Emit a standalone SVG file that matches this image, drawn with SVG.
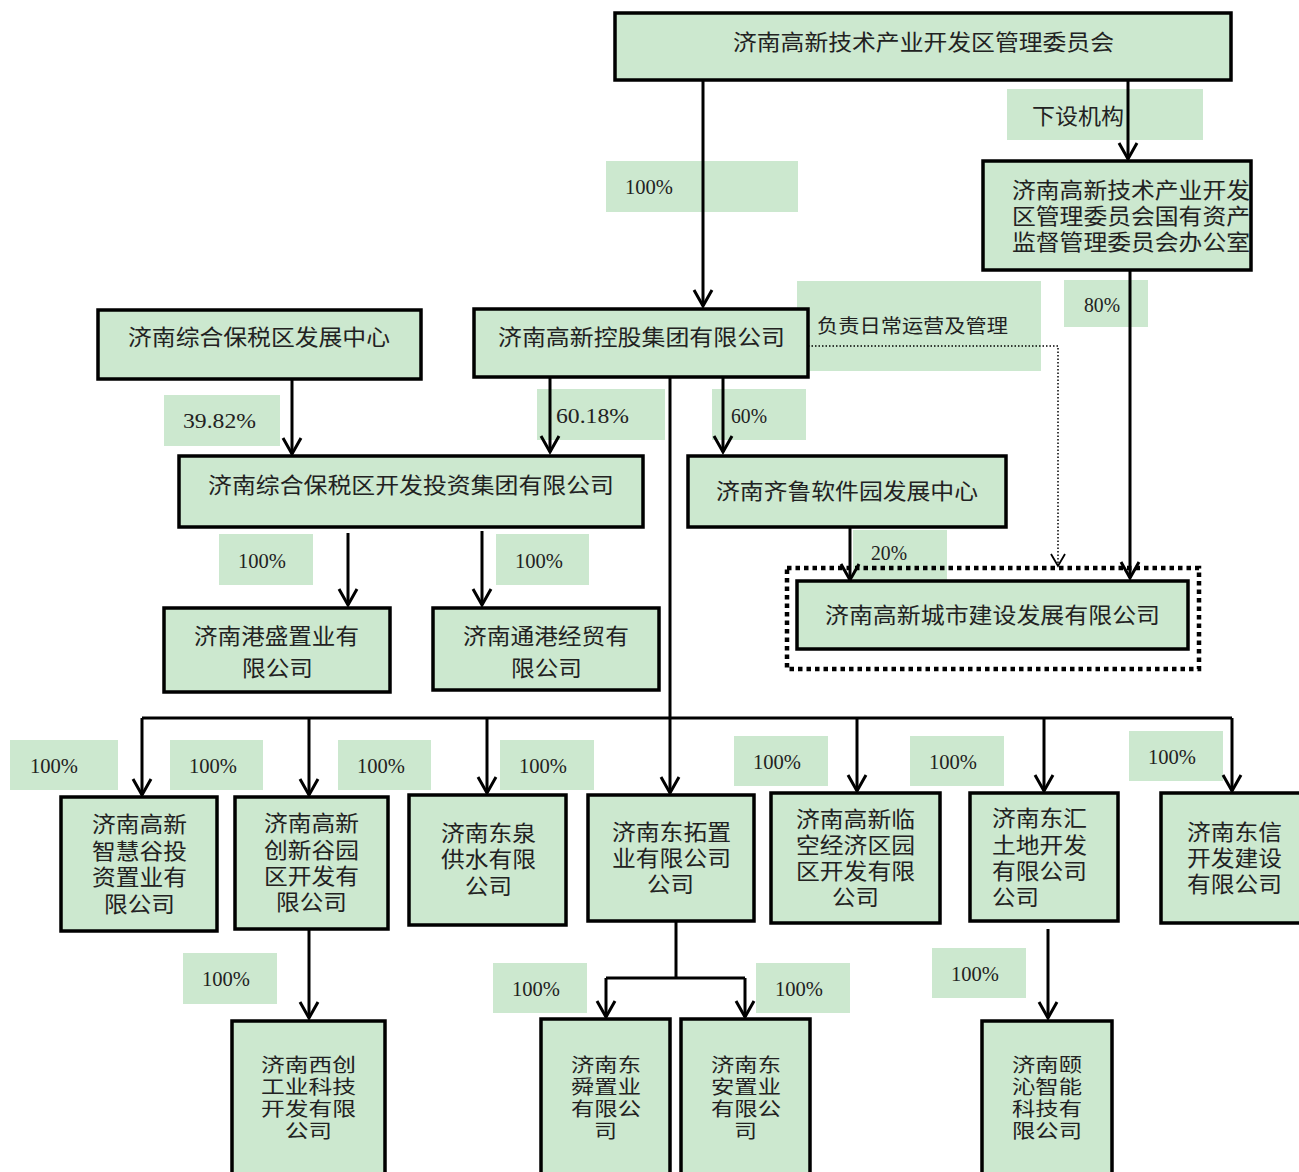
<svg xmlns="http://www.w3.org/2000/svg" width="1299" height="1172" viewBox="0 0 1299 1172">
<style>
.bx{fill:#cce8cf;stroke:#000;stroke-width:3.5}
.lb{fill:#cce8cf}
.t{font-family:"Liberation Sans","Noto Sans CJK SC","Noto Sans CJK JP",sans-serif;font-size:22px;fill:#222}
.tt{font-family:"Liberation Sans","Noto Sans CJK SC","Noto Sans CJK JP",sans-serif;font-size:19px;fill:#222}
.ts{font-family:"Liberation Sans","Noto Sans CJK SC","Noto Sans CJK JP",sans-serif;font-size:19px;fill:#222}
.p{font-family:"Liberation Serif","Noto Sans CJK SC",serif;font-size:21px;fill:#222}
.c{fill:none;stroke:#000;stroke-width:3}
.d{fill:none;stroke:#000;stroke-width:1.5;stroke-dasharray:1.5 2}
</style>
<defs>
<marker id="ah" markerUnits="userSpaceOnUse" markerWidth="40" markerHeight="40" viewBox="-20 -20 40 40" refX="0" refY="0" orient="auto">
<path d="M-16,-9 L0,0 L-16,9" fill="none" stroke="#000" stroke-width="3"/>
</marker>
<marker id="ahs" markerUnits="userSpaceOnUse" markerWidth="30" markerHeight="30" viewBox="-15 -15 30 30" refX="0" refY="0" orient="auto">
<path d="M-12,-7 L0,0 L-12,7" fill="none" stroke="#000" stroke-width="1.8"/>
</marker>
</defs>
<rect width="1299" height="1172" fill="#fff"/>

<g id="labels">
<rect class="lb" x="1007" y="89" width="196" height="51"/><text class="t" x="1032" y="124" textLength="92" lengthAdjust="spacingAndGlyphs">下设机构</text>
<rect class="lb" x="606" y="161" width="192" height="51"/><text class="p" x="625" y="194" textLength="48" lengthAdjust="spacingAndGlyphs">100%</text>
<rect class="lb" x="797" y="281" width="244" height="90"/><text class="ts" x="817" y="333" textLength="191" lengthAdjust="spacingAndGlyphs">负责日常运营及管理</text>
<rect class="lb" x="1064" y="280" width="84" height="47"/><text class="p" x="1084" y="312" textLength="36" lengthAdjust="spacingAndGlyphs">80%</text>
<rect class="lb" x="164" y="395" width="116" height="51"/><text class="p" x="183" y="428" textLength="73" lengthAdjust="spacingAndGlyphs">39.82%</text>
<rect class="lb" x="537" y="389" width="128" height="51"/><text class="p" x="556" y="423" textLength="73" lengthAdjust="spacingAndGlyphs">60.18%</text>
<rect class="lb" x="712" y="389" width="94" height="51"/><text class="p" x="731" y="423" textLength="36" lengthAdjust="spacingAndGlyphs">60%</text>
<rect class="lb" x="219" y="534" width="94" height="51"/><text class="p" x="238" y="568" textLength="48" lengthAdjust="spacingAndGlyphs">100%</text>
<rect class="lb" x="496" y="534" width="93" height="51"/><text class="p" x="515" y="568" textLength="48" lengthAdjust="spacingAndGlyphs">100%</text>
<rect class="lb" x="853" y="530" width="94" height="50"/><text class="p" x="871" y="560" textLength="36" lengthAdjust="spacingAndGlyphs">20%</text>
<rect class="lb" x="10" y="740" width="108" height="50"/><text class="p" x="30" y="773" textLength="48" lengthAdjust="spacingAndGlyphs">100%</text>
<rect class="lb" x="170" y="740" width="93" height="50"/><text class="p" x="189" y="773" textLength="48" lengthAdjust="spacingAndGlyphs">100%</text>
<rect class="lb" x="338" y="740" width="93" height="50"/><text class="p" x="357" y="773" textLength="48" lengthAdjust="spacingAndGlyphs">100%</text>
<rect class="lb" x="500" y="740" width="94" height="50"/><text class="p" x="519" y="773" textLength="48" lengthAdjust="spacingAndGlyphs">100%</text>
<rect class="lb" x="734" y="736" width="94" height="50"/><text class="p" x="753" y="769" textLength="48" lengthAdjust="spacingAndGlyphs">100%</text>
<rect class="lb" x="910" y="736" width="94" height="50"/><text class="p" x="929" y="769" textLength="48" lengthAdjust="spacingAndGlyphs">100%</text>
<rect class="lb" x="1129" y="731" width="94" height="50"/><text class="p" x="1148" y="764" textLength="48" lengthAdjust="spacingAndGlyphs">100%</text>
<rect class="lb" x="183" y="953" width="94" height="51"/><text class="p" x="202" y="986" textLength="48" lengthAdjust="spacingAndGlyphs">100%</text>
<rect class="lb" x="493" y="963" width="94" height="50"/><text class="p" x="512" y="996" textLength="48" lengthAdjust="spacingAndGlyphs">100%</text>
<rect class="lb" x="756" y="963" width="94" height="50"/><text class="p" x="775" y="996" textLength="48" lengthAdjust="spacingAndGlyphs">100%</text>
<rect class="lb" x="932" y="948" width="94" height="50"/><text class="p" x="951" y="981" textLength="48" lengthAdjust="spacingAndGlyphs">100%</text>
</g>

<g id="connectors">
<path class="c" d="M703,80 V306" marker-end="url(#ah)"/>
<path class="c" d="M1128,80 V159" marker-end="url(#ah)"/>
<path class="c" d="M1130,270 V578" marker-end="url(#ah)"/>
<path class="c" d="M292,379 V454" marker-end="url(#ah)"/>
<path class="c" d="M550,377 V452" marker-end="url(#ah)"/>
<path class="c" d="M723,377 V452" marker-end="url(#ah)"/>
<path class="d" d="M808,346 H1058 V566" marker-end="url(#ahs)"/>
<path class="c" d="M670,377 V718"/>
<path class="c" d="M142,718 H1232"/>
<path class="c" d="M142,718 V795" marker-end="url(#ah)"/>
<path class="c" d="M1232,718 V791" marker-end="url(#ah)"/>
<path class="c" d="M309,718 V795" marker-end="url(#ah)"/>
<path class="c" d="M487,718 V793" marker-end="url(#ah)"/>
<path class="c" d="M670,718 V793" marker-end="url(#ah)"/>
<path class="c" d="M857,718 V791" marker-end="url(#ah)"/>
<path class="c" d="M1044,718 V791" marker-end="url(#ah)"/>
<path class="c" d="M348,533 V605" marker-end="url(#ah)"/>
<path class="c" d="M482,531 V605" marker-end="url(#ah)"/>
<path class="c" d="M850,527 V580" marker-end="url(#ah)"/>
<path class="c" d="M309,929 V1018" marker-end="url(#ah)"/>
<path class="c" d="M676,921 V978"/>
<path class="c" d="M606,978 H745"/>
<path class="c" d="M606,978 V1017" marker-end="url(#ah)"/>
<path class="c" d="M745,978 V1017" marker-end="url(#ah)"/>
<path class="c" d="M1048,929 V1018" marker-end="url(#ah)"/>
</g>

<g id="n-admin"><rect class="bx" x="615" y="13" width="616" height="67"/><text class="t" x="733" y="50" textLength="381" lengthAdjust="spacingAndGlyphs">济南高新技术产业开发区管理委员会</text></g>
<g id="n-sasac"><rect class="bx" x="983" y="161" width="268" height="109"/>
<text class="t"><tspan x="1012" y="198" textLength="238" lengthAdjust="spacingAndGlyphs">济南高新技术产业开发</tspan><tspan x="1012" y="224" textLength="238" lengthAdjust="spacingAndGlyphs">区管理委员会国有资产</tspan><tspan x="1012" y="250" textLength="238" lengthAdjust="spacingAndGlyphs">监督管理委员会办公室</tspan></text></g>
<g id="n-bonded-center"><rect class="bx" x="98" y="310" width="323" height="69"/><text class="t" x="128" y="345" textLength="262" lengthAdjust="spacingAndGlyphs">济南综合保税区发展中心</text></g>
<g id="n-holding"><rect class="bx" x="474" y="309" width="334" height="68"/><text class="t" x="498" y="345" textLength="287" lengthAdjust="spacingAndGlyphs">济南高新控股集团有限公司</text></g>
<g id="n-bonded-group"><rect class="bx" x="179" y="456" width="464" height="71"/><text class="t" x="208" y="493" textLength="406" lengthAdjust="spacingAndGlyphs">济南综合保税区开发投资集团有限公司</text></g>
<g id="n-qilu"><rect class="bx" x="688" y="456" width="318" height="71"/><text class="t" x="716" y="499" textLength="262" lengthAdjust="spacingAndGlyphs">济南齐鲁软件园发展中心</text></g>
<g id="n-gangsheng"><rect class="bx" x="164" y="608" width="226" height="84"/>
<text class="t"><tspan x="194" y="644" textLength="165" lengthAdjust="spacingAndGlyphs">济南港盛置业有</tspan><tspan x="242" y="676" textLength="71" lengthAdjust="spacingAndGlyphs">限公司</tspan></text></g>
<g id="n-tonggang"><rect class="bx" x="433" y="608" width="226" height="82"/>
<text class="t"><tspan x="463" y="644" textLength="166" lengthAdjust="spacingAndGlyphs">济南通港经贸有</tspan><tspan x="511" y="676" textLength="71" lengthAdjust="spacingAndGlyphs">限公司</tspan></text></g>
<g id="n-urban"><rect fill="none" stroke="#000" stroke-width="4.5" stroke-dasharray="4.5 4" x="787" y="568" width="412" height="101"/>
<rect class="bx" x="797" y="581" width="391" height="68"/><text class="t" x="825" y="623" textLength="335" lengthAdjust="spacingAndGlyphs">济南高新城市建设发展有限公司</text></g>

<g id="n-zhihuigu"><rect class="bx" x="61" y="797" width="156" height="134"/>
<text class="t"><tspan x="92" y="832" textLength="95" lengthAdjust="spacingAndGlyphs">济南高新</tspan><tspan x="92" y="859" textLength="95" lengthAdjust="spacingAndGlyphs">智慧谷投</tspan><tspan x="92" y="885" textLength="95" lengthAdjust="spacingAndGlyphs">资置业有</tspan><tspan x="104" y="912" textLength="71" lengthAdjust="spacingAndGlyphs">限公司</tspan></text></g>
<g id="n-chuangxingu"><rect class="bx" x="235" y="797" width="153" height="132"/>
<text class="t"><tspan x="264" y="831" textLength="95" lengthAdjust="spacingAndGlyphs">济南高新</tspan><tspan x="264" y="858" textLength="95" lengthAdjust="spacingAndGlyphs">创新谷园</tspan><tspan x="264" y="884" textLength="95" lengthAdjust="spacingAndGlyphs">区开发有</tspan><tspan x="276" y="910" textLength="71" lengthAdjust="spacingAndGlyphs">限公司</tspan></text></g>
<g id="n-dongquan"><rect class="bx" x="409" y="795" width="157" height="130"/>
<text class="t"><tspan x="441" y="841" textLength="95" lengthAdjust="spacingAndGlyphs">济南东泉</tspan><tspan x="441" y="867" textLength="95" lengthAdjust="spacingAndGlyphs">供水有限</tspan><tspan x="465" y="894" textLength="47" lengthAdjust="spacingAndGlyphs">公司</tspan></text></g>
<g id="n-dongtuo"><rect class="bx" x="588" y="795" width="166" height="126"/>
<text class="t"><tspan x="612" y="840" textLength="119" lengthAdjust="spacingAndGlyphs">济南东拓置</tspan><tspan x="612" y="866" textLength="119" lengthAdjust="spacingAndGlyphs">业有限公司</tspan><tspan x="647" y="892" textLength="47" lengthAdjust="spacingAndGlyphs">公司</tspan></text></g>
<g id="n-linkong"><rect class="bx" x="771" y="793" width="169" height="130"/>
<text class="t"><tspan x="796" y="827" textLength="119" lengthAdjust="spacingAndGlyphs">济南高新临</tspan><tspan x="796" y="853" textLength="119" lengthAdjust="spacingAndGlyphs">空经济区园</tspan><tspan x="796" y="879" textLength="119" lengthAdjust="spacingAndGlyphs">区开发有限</tspan><tspan x="832" y="905" textLength="47" lengthAdjust="spacingAndGlyphs">公司</tspan></text></g>
<g id="n-donghui"><rect class="bx" x="970" y="793" width="148" height="128"/>
<text class="t"><tspan x="992" y="826" textLength="95" lengthAdjust="spacingAndGlyphs">济南东汇</tspan><tspan x="992" y="853" textLength="95" lengthAdjust="spacingAndGlyphs">土地开发</tspan><tspan x="992" y="879" textLength="95" lengthAdjust="spacingAndGlyphs">有限公司</tspan><tspan x="992" y="905" textLength="47" lengthAdjust="spacingAndGlyphs">公司</tspan></text></g>
<g id="n-dongxin"><rect class="bx" x="1161" y="793" width="150" height="130"/>
<text class="t"><tspan x="1187" y="840" textLength="95" lengthAdjust="spacingAndGlyphs">济南东信</tspan><tspan x="1187" y="866" textLength="95" lengthAdjust="spacingAndGlyphs">开发建设</tspan><tspan x="1187" y="892" textLength="95" lengthAdjust="spacingAndGlyphs">有限公司</tspan></text></g>

<g id="n-xichuang"><rect class="bx" x="232" y="1021" width="153" height="170"/>
<text class="tt"><tspan x="261" y="1072" textLength="95" lengthAdjust="spacingAndGlyphs">济南西创</tspan><tspan x="261" y="1094" textLength="95" lengthAdjust="spacingAndGlyphs">工业科技</tspan><tspan x="261" y="1116" textLength="95" lengthAdjust="spacingAndGlyphs">开发有限</tspan><tspan x="285" y="1138" textLength="47" lengthAdjust="spacingAndGlyphs">公司</tspan></text></g>
<g id="n-dongshun"><rect class="bx" x="541" y="1019" width="129" height="172"/>
<text class="tt"><tspan x="571" y="1072" textLength="70" lengthAdjust="spacingAndGlyphs">济南东</tspan><tspan x="571" y="1094" textLength="70" lengthAdjust="spacingAndGlyphs">舜置业</tspan><tspan x="571" y="1116" textLength="70" lengthAdjust="spacingAndGlyphs">有限公</tspan><tspan x="594" y="1138" textLength="23" lengthAdjust="spacingAndGlyphs">司</tspan></text></g>
<g id="n-dongan"><rect class="bx" x="681" y="1019" width="129" height="172"/>
<text class="tt"><tspan x="711" y="1072" textLength="70" lengthAdjust="spacingAndGlyphs">济南东</tspan><tspan x="711" y="1094" textLength="70" lengthAdjust="spacingAndGlyphs">安置业</tspan><tspan x="711" y="1116" textLength="70" lengthAdjust="spacingAndGlyphs">有限公</tspan><tspan x="734" y="1138" textLength="23" lengthAdjust="spacingAndGlyphs">司</tspan></text></g>
<g id="n-yiqin"><rect class="bx" x="982" y="1021" width="130" height="170"/>
<text class="tt"><tspan x="1012" y="1072" textLength="70" lengthAdjust="spacingAndGlyphs">济南颐</tspan><tspan x="1012" y="1094" textLength="70" lengthAdjust="spacingAndGlyphs">沁智能</tspan><tspan x="1012" y="1116" textLength="70" lengthAdjust="spacingAndGlyphs">科技有</tspan><tspan x="1012" y="1138" textLength="70" lengthAdjust="spacingAndGlyphs">限公司</tspan></text></g>
</svg>
